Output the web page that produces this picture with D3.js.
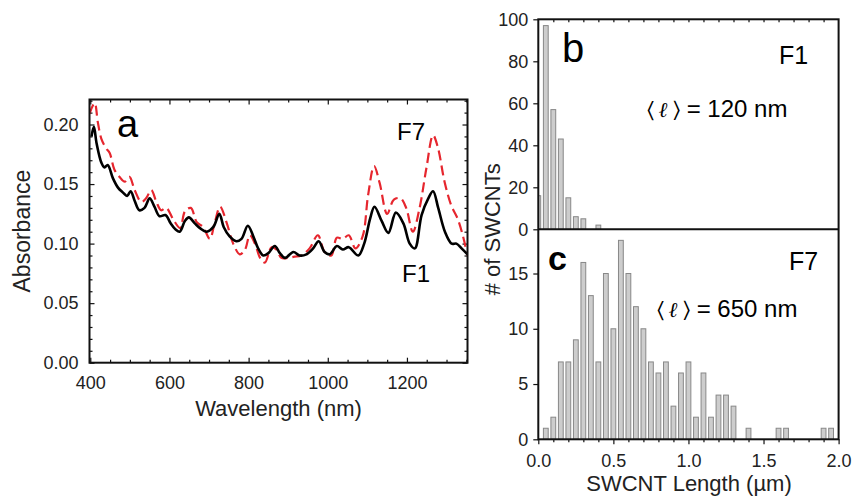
<!DOCTYPE html>
<html>
<head>
<meta charset="utf-8">
<script src="https://cdn.jsdelivr.net/npm/d3@7"></script>
<style>
  body { margin: 0; background: #fff; }
  svg { font-family: 'Liberation Sans', Arial, sans-serif; }
  .tick text { font-size: 18px; fill: #222; }
  .tick line { stroke: #111; stroke-width: 1.2; }
</style>
</head>
<body>
<div id="chart"></div>
<script>
const wavelengthsF1 = [403, 409, 416, 428, 436, 444, 457, 470, 482, 493, 502, 512, 524, 537, 550, 562, 575, 590, 603, 615, 626, 639, 649, 664, 677, 694, 711, 726, 737, 752, 769, 782, 798, 812, 824, 837, 850, 866, 879, 892, 913, 929, 946, 963, 977, 992, 1005, 1023, 1038, 1053, 1077, 1092, 1107, 1118, 1136, 1153, 1172, 1191, 1207, 1220, 1237, 1254, 1266, 1279, 1296, 1313, 1325, 1338, 1353];
const absorbanceF1 = [0.190, 0.198, 0.184, 0.168, 0.164, 0.166, 0.155, 0.147, 0.143, 0.140, 0.144, 0.136, 0.128, 0.130, 0.138, 0.131, 0.123, 0.124, 0.117, 0.112, 0.110, 0.119, 0.122, 0.117, 0.113, 0.110, 0.114, 0.125, 0.114, 0.106, 0.102, 0.104, 0.115, 0.106, 0.096, 0.090, 0.092, 0.098, 0.092, 0.088, 0.093, 0.090, 0.091, 0.096, 0.102, 0.093, 0.091, 0.098, 0.095, 0.097, 0.090, 0.100, 0.121, 0.131, 0.119, 0.109, 0.126, 0.117, 0.100, 0.096, 0.124, 0.138, 0.144, 0.130, 0.110, 0.100, 0.100, 0.096, 0.091];

const wavelengthsF7 = [398, 411, 419, 428, 440, 449, 461, 474, 487, 499, 512, 529, 541, 554, 567, 579, 592, 610, 627, 639, 654, 669, 685, 702, 714, 728, 745, 761, 778, 791, 803, 816, 829, 841, 858, 870, 883, 900, 916, 933, 954, 975, 992, 1009, 1023, 1038, 1053, 1070, 1088, 1102, 1117, 1131, 1150, 1167, 1184, 1198, 1215, 1232, 1249, 1266, 1278, 1295, 1312, 1328, 1341, 1353];
const absorbanceF7 = [0.209, 0.218, 0.202, 0.188, 0.180, 0.176, 0.162, 0.156, 0.152, 0.156, 0.145, 0.135, 0.138, 0.145, 0.135, 0.128, 0.130, 0.120, 0.113, 0.127, 0.130, 0.118, 0.114, 0.104, 0.117, 0.131, 0.117, 0.100, 0.091, 0.095, 0.107, 0.100, 0.088, 0.084, 0.097, 0.095, 0.088, 0.088, 0.089, 0.090, 0.096, 0.107, 0.093, 0.090, 0.105, 0.104, 0.107, 0.096, 0.106, 0.141, 0.165, 0.151, 0.125, 0.137, 0.138, 0.130, 0.110, 0.130, 0.163, 0.191, 0.181, 0.152, 0.132, 0.121, 0.107, 0.090];

const lengthBins = [0.00, 0.05, 0.10, 0.15, 0.20, 0.25, 0.30, 0.35, 0.40, 0.45, 0.50, 0.55, 0.60, 0.65, 0.70, 0.75, 0.80, 0.85, 0.90, 0.95,
  1.00, 1.05, 1.10, 1.15, 1.20, 1.25, 1.30, 1.35, 1.40, 1.45, 1.50, 1.55, 1.60, 1.65, 1.70, 1.75, 1.80, 1.85, 1.90, 1.95];
const countsF1 = [16, 97, 57, 43, 15, 6, 5, 0, 2, 0, 0, 0, 0, 0, 0, 0, 0, 0, 0, 0,
  0, 0, 0, 0, 0, 0, 0, 0, 0, 0, 0, 0, 0, 0, 0, 0, 0, 0, 0, 0];
const countsF7 = [0, 1, 2, 7, 7, 9, 16, 13, 7, 15, 10, 18, 15, 12, 10, 7, 6, 7, 3, 6,
  7, 2, 6, 2, 4, 4, 3, 0, 1, 0, 0, 0, 1, 1, 0, 0, 0, 0, 1, 1];

const absTicks = [0, 0.05, 0.10, 0.15, 0.20];
const waveTicks = [400, 600, 800, 1000, 1200];
const countTicksF1 = [0, 20, 40, 60, 80, 100];
const countTicksF7 = [0, 5, 10, 15];
const lengthTicks = [0, 0.5, 1.0, 1.5, 2.0];

const width = 852, height = 499;

const svg = d3.select('#chart')
  .append('svg')
  .attr('width', width)
  .attr('height', height);

// ---- panel a : absorbance spectra
const a = {left: 89.5, right: 467.5, top: 99.5, bottom: 362.7};
const xA = d3.scaleLinear().domain([398, 1353]).range([a.left, a.right]);
const yA = d3.scaleLinear().domain([0, 0.221]).range([a.bottom, a.top]);

const gA = svg.append('g');

const minorWave = d3.range(400, 1351, 50).filter(v => !waveTicks.includes(v));
const minorAbs = d3.range(0, 0.2201, 0.01).filter(v => Math.abs(v * 20 - Math.round(v * 20)) > 1e-6);

gA.append('g').attr('transform', `translate(0,${a.bottom})`)
  .call(d3.axisBottom(xA).tickValues(waveTicks).tickSize(-5).tickPadding(14).tickFormat(d3.format('d')));
gA.append('g').attr('transform', `translate(0,${a.bottom})`)
  .call(d3.axisBottom(xA).tickValues(minorWave).tickSize(-3).tickFormat(''));
gA.append('g').attr('transform', `translate(0,${a.top})`)
  .call(d3.axisTop(xA).tickValues(waveTicks).tickSize(-5).tickFormat(''));
gA.append('g').attr('transform', `translate(0,${a.top})`)
  .call(d3.axisTop(xA).tickValues(minorWave).tickSize(-3).tickFormat(''));
gA.append('g').attr('transform', `translate(${a.left},0)`)
  .call(d3.axisLeft(yA).tickValues(absTicks).tickSize(-5).tickPadding(11).tickFormat(d3.format('.2f')));
gA.append('g').attr('transform', `translate(${a.left},0)`)
  .call(d3.axisLeft(yA).tickValues(minorAbs).tickSize(-3).tickFormat(''));
gA.append('g').attr('transform', `translate(${a.right},0)`)
  .call(d3.axisRight(yA).tickValues(absTicks).tickSize(-5).tickFormat(''));
gA.append('g').attr('transform', `translate(${a.right},0)`)
  .call(d3.axisRight(yA).tickValues(minorAbs).tickSize(-3).tickFormat(''));
gA.selectAll('.domain').remove();

svg.append('clipPath').attr('id', 'clipA')
  .append('rect').attr('x', a.left).attr('y', a.top)
  .attr('width', a.right - a.left).attr('height', a.bottom - a.top);

const line = d3.line().curve(d3.curveCatmullRom.alpha(0.5));

gA.append('path')
  .attr('clip-path', 'url(#clipA)')
  .attr('d', line(wavelengthsF7.map((w, i) => [xA(w), yA(absorbanceF7[i])])))
  .attr('fill', 'none')
  .attr('stroke', '#e6262e')
  .attr('stroke-width', 2.2)
  .attr('stroke-dasharray', '10,5');

gA.append('path')
  .attr('clip-path', 'url(#clipA)')
  .attr('d', line(wavelengthsF1.map((w, i) => [xA(w), yA(absorbanceF1[i])])))
  .attr('fill', 'none')
  .attr('stroke', '#000')
  .attr('stroke-width', 2.6);

gA.append('rect')
  .attr('x', a.left).attr('y', a.top)
  .attr('width', a.right - a.left).attr('height', a.bottom - a.top)
  .attr('fill', 'none').attr('stroke', '#111').attr('stroke-width', 2);

gA.append('text').attr('x', 117).attr('y', 137).attr('font-size', 38).text('a');
gA.append('text').attr('x', 397).attr('y', 140).attr('font-size', 24).text('F7');
gA.append('text').attr('x', 402).attr('y', 282).attr('font-size', 24).text('F1');

svg.append('text')
  .attr('transform', `translate(30,${(a.top + a.bottom) / 2}) rotate(-90)`)
  .attr('text-anchor', 'middle').attr('font-size', 23).attr('fill', '#222')
  .text('Absorbance');
svg.append('text')
  .attr('x', (a.left + a.right) / 2).attr('y', 416)
  .attr('text-anchor', 'middle').attr('font-size', 22).attr('fill', '#222')
  .text('Wavelength (nm)');

// ---- panels b and c : length histograms
const h = {left: 538.3, right: 838.6, top: 19.3, mid: 229.3, bottom: 439.3};
const xH = d3.scaleLinear().domain([0, 2]).range([h.left, h.right]);
const yB = d3.scaleLinear().domain([0, 100]).range([h.mid, h.top]);
const yC = d3.scaleLinear().domain([0, 19]).range([h.bottom, h.mid]);
const barW = xH(0.032) - xH(0);
const minorLen = d3.range(0, 2.01, 0.1).filter(v => Math.abs(v * 2 - Math.round(v * 2)) > 1e-6);

svg.append('clipPath').attr('id', 'clipB')
  .append('rect').attr('x', h.left).attr('y', h.top)
  .attr('width', h.right - h.left).attr('height', h.mid - h.top);

const gB = svg.append('g');
gB.append('g').attr('clip-path', 'url(#clipB)')
  .selectAll('rect')
  .data(lengthBins.map((b, i) => ({b, n: countsF1[i]})).filter(d => d.n > 0))
  .enter()
  .append('rect')
  .attr('x', d => xH(d.b) - barW / 2)
  .attr('y', d => yB(d.n))
  .attr('width', barW)
  .attr('height', d => yB(0) - yB(d.n))
  .attr('fill', '#cdcdcd')
  .attr('stroke', '#888')
  .attr('stroke-width', 1);

const gC = svg.append('g');
gC.selectAll('rect')
  .data(lengthBins.map((b, i) => ({b, n: countsF7[i]})).filter(d => d.n > 0))
  .enter()
  .append('rect')
  .attr('x', d => xH(d.b) - barW / 2)
  .attr('y', d => yC(d.n))
  .attr('width', barW)
  .attr('height', d => yC(0) - yC(d.n))
  .attr('fill', '#cdcdcd')
  .attr('stroke', '#888')
  .attr('stroke-width', 1);

const axes = svg.append('g');
axes.append('g').attr('transform', `translate(${h.left},0)`)
  .call(d3.axisLeft(yB).tickValues(countTicksF1).tickSize(5).tickPadding(5));
axes.append('g').attr('transform', `translate(${h.left},0)`)
  .call(d3.axisLeft(yC).tickValues(countTicksF7).tickSize(5).tickPadding(5));
axes.append('g').attr('transform', `translate(0,${h.top})`)
  .call(d3.axisTop(xH).tickValues(d3.range(0.1, 2, 0.1)).tickSize(-3).tickFormat(''));
axes.append('g').attr('transform', `translate(0,${h.bottom})`)
  .call(d3.axisBottom(xH).tickValues(lengthTicks).tickSize(5).tickPadding(10).tickFormat(d3.format('.1f')));
axes.append('g').attr('transform', `translate(0,${h.bottom})`)
  .call(d3.axisBottom(xH).tickValues(minorLen).tickSize(3).tickFormat(''));
axes.selectAll('.domain').remove();

axes.append('rect')
  .attr('x', h.left).attr('y', h.top)
  .attr('width', h.right - h.left).attr('height', h.bottom - h.top)
  .attr('fill', 'none').attr('stroke', '#111').attr('stroke-width', 2);
axes.append('line')
  .attr('x1', h.left).attr('x2', h.right).attr('y1', h.mid).attr('y2', h.mid)
  .attr('stroke', '#111').attr('stroke-width', 2);

svg.append('text').attr('x', 562).attr('y', 62).attr('font-size', 40).text('b');
svg.append('text').attr('x', 548).attr('y', 270).attr('font-size', 34).attr('font-weight', 'bold').text('c');
svg.append('text').attr('x', 779).attr('y', 64).attr('font-size', 25).text('F1');
svg.append('text').attr('x', 789).attr('y', 270).attr('font-size', 25).text('F7');

const meanLabel = (x, y, v) => {
  const t = svg.append('text').attr('x', x).attr('y', y).attr('font-size', 24);
  t.append('tspan').attr('font-family', 'DejaVu Sans').attr('font-size', 22).text('\u2329');
  t.append('tspan').attr('font-family', 'DejaVu Serif').attr('font-style', 'italic').attr('font-weight', 'bold').attr('font-size', 21).attr('dx', 5).text('\u2113');
  t.append('tspan').attr('font-family', 'DejaVu Sans').attr('font-size', 22).attr('dx', 5).text('\u232A');
  t.append('tspan').text(` = ${v} nm`);
};
meanLabel(647, 117, 120);
meanLabel(657, 317, 650);

svg.append('text')
  .attr('transform', `translate(500,${(h.top + h.bottom) / 2}) rotate(-90)`)
  .attr('text-anchor', 'middle').attr('font-size', 22).attr('fill', '#222')
  .text('# of SWCNTs');
svg.append('text')
  .attr('x', 689).attr('y', 491)
  .attr('text-anchor', 'middle').attr('font-size', 22).attr('fill', '#222')
  .text('SWCNT Length (\u00b5m)');
</script>
</body>
</html>
